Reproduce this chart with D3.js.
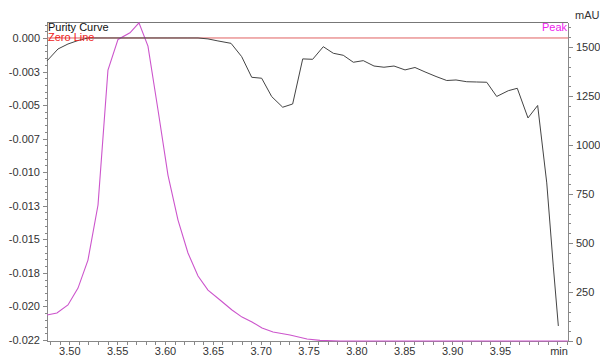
<!DOCTYPE html>
<html>
<head>
<meta charset="utf-8">
<script src="https://cdn.jsdelivr.net/npm/d3@7"></script>
<style>
  body { margin: 0; background: #fff; }
  svg { display: block; font-family: "Liberation Sans", Arial, sans-serif; }
  .axis text { font-size: 11px; fill: #333; }
  .axis path, .axis line { stroke: #888; shape-rendering: crispEdges; }
</style>
</head>
<body>
<svg id="chart" width="600" height="358"></svg>
<script>
// purity curve (left axis), time in min
var purityTime = [3.4767, 3.4882, 3.4986, 3.5091, 3.5195, 3.5300, 3.5404, 3.5509, 3.5614, 3.5718,
	3.5822, 3.5927, 3.6031, 3.6136, 3.6240, 3.6345, 3.6449, 3.6553, 3.6690, 3.6801,
	3.6906, 3.7010, 3.7115, 3.7230, 3.7334, 3.7439, 3.7543, 3.7654, 3.7759, 3.7863,
	3.7968, 3.8072, 3.8184, 3.8288, 3.8393, 3.8508, 3.8612, 3.8717, 3.8832, 3.8944,
	3.9041, 3.9153, 3.9257, 3.9362, 3.9466, 3.9587, 3.9681, 3.9793, 3.9894, 3.9989,
	4.0058, 4.0110];
var purityValue = [-0.00171, -0.00082, -0.00045, -0.00019, 0, 0, 0, 0, 0, 0,
	0, 0, 0, 0, 0, 0, -0.00007, -0.00022, -0.00040, -0.00139,
	-0.00293, -0.00300, -0.00437, -0.00516, -0.00492, -0.00156, -0.00159, -0.00065, -0.00114, -0.00129,
	-0.00181, -0.00169, -0.00209, -0.00218, -0.00209, -0.00238, -0.00220, -0.00253, -0.00287, -0.00317,
	-0.00313, -0.00326, -0.00328, -0.00330, -0.00436, -0.00393, -0.00375, -0.00596, -0.00503, -0.01080,
	-0.01706, -0.02146];

// peak (right axis, mAU)
var peakTime = [3.4767, 3.4871, 3.4986, 3.5091, 3.5195, 3.5300, 3.5404, 3.5509, 3.5634, 3.5728,
	3.5822, 3.5927, 3.6031, 3.6136, 3.6240, 3.6345, 3.6449, 3.6575, 3.6700, 3.6805,
	3.6909, 3.7014, 3.7129, 3.7306, 3.7484, 3.7620, 3.7829, 3.8007, 3.9000, 4.0210];
var peakValue = [133, 143, 184, 270, 413, 694, 1383, 1539, 1573, 1624,
	1505, 1179, 847, 617, 449, 332, 260, 209, 158, 122,
	97, 66, 46, 31, 10, 3, 0, 0, 0, 0];

var leftTicks = [0, -0.0025, -0.005, -0.0075, -0.01, -0.0125, -0.015, -0.0175, -0.02, -0.0225];
var leftLabels = ["0.000", "-0.003", "-0.005", "-0.007", "-0.010", "-0.013", "-0.015", "-0.018", "-0.020", "-0.022"];
var rightTicks = [0, 250, 500, 750, 1000, 1250, 1500];
var xTicks = [3.50, 3.55, 3.60, 3.65, 3.70, 3.75, 3.80, 3.85, 3.90, 3.95];
var xLabels = ["3.50", "3.55", "3.60", "3.65", "3.70", "3.75", "3.80", "3.85", "3.90", "3.95"];

var x0 = 47, x1 = 568, y0 = 22, y1 = 341;

var svg = d3.select("#chart");

var xScale = d3.scaleLinear().domain([3.4767, 4.0211]).range([x0, x1]);
var yLeft = d3.scaleLinear().domain([-0.02258, 0.00119]).range([y1, y0]);
var yRight = d3.scaleLinear().domain([0, 1628]).range([y1, y0]);

// minor ticks
var xMinor = d3.range(348, 403).map(function(d) { return d / 100; });
var leftMinor = d3.range(-45, 3).map(function(d) { return d * 0.0005; });
var rightMinor = d3.range(0, 33).map(function(d) { return d * 50; });

svg.append("g").attr("class", "axis")
	.attr("transform", "translate(0," + y1 + ")")
	.call(d3.axisBottom(xScale).tickValues(xMinor).tickSize(4).tickSizeOuter(0).tickFormat(""));
svg.append("g").attr("class", "axis")
	.attr("transform", "translate(0," + y1 + ")")
	.call(d3.axisBottom(xScale).tickValues(xTicks).tickSize(4).tickSizeOuter(0)
		.tickFormat(function(d, i) { return xLabels[i]; }))
	.call(function(g) { g.selectAll("text").attr("y", 6).attr("dy", "0.71em"); });
svg.append("text")
	.attr("x", x1 - 9).attr("y", y1 + 14)
	.attr("text-anchor", "middle")
	.style("font-size", "11px").style("fill", "#333")
	.text("min");

svg.append("g").attr("class", "axis")
	.attr("transform", "translate(" + x0 + ",0)")
	.call(d3.axisLeft(yLeft).tickValues(leftMinor).tickSize(2).tickSizeOuter(0).tickFormat(""));
svg.append("g").attr("class", "axis")
	.attr("transform", "translate(" + x0 + ",0)")
	.call(d3.axisLeft(yLeft).tickValues(leftTicks).tickSize(4).tickSizeOuter(0)
		.tickFormat(function(d, i) { return leftLabels[i]; }));

svg.append("g").attr("class", "axis")
	.attr("transform", "translate(" + x1 + ",0)")
	.call(d3.axisRight(yRight).tickValues(rightMinor).tickSize(3).tickSizeOuter(0).tickFormat(""));
svg.append("g").attr("class", "axis")
	.attr("transform", "translate(" + x1 + ",0)")
	.call(d3.axisRight(yRight).tickValues(rightTicks).tickSize(5).tickSizeOuter(0).tickFormat(d3.format("d")));
svg.append("text")
	.attr("x", 575).attr("y", 19)
	.style("font-size", "11px").style("fill", "#333")
	.text("mAU");

svg.selectAll(".axis path.domain").style("stroke-width", 1.5);

// top frame
svg.append("line")
	.attr("x1", x0).attr("x2", x1).attr("y1", y0).attr("y2", y0)
	.style("stroke", "#777").style("shape-rendering", "crispEdges");

// zero line
svg.append("line")
	.attr("x1", x0).attr("x2", x1)
	.attr("y1", yLeft(0)).attr("y2", yLeft(0))
	.style("stroke", "#e06060").style("stroke-width", 1);

var peakLine = d3.line()
	.x(function(d, i) { return xScale(peakTime[i]); })
	.y(function(d) { return yRight(d); });
svg.append("path")
	.attr("d", peakLine(peakValue))
	.style("fill", "none").style("stroke", "#cc55cc").style("stroke-width", 1.1);

var purityLine = d3.line()
	.x(function(d, i) { return xScale(purityTime[i]); })
	.y(function(d) { return yLeft(d); });
svg.append("path")
	.attr("d", purityLine(purityValue))
	.style("fill", "none").style("stroke", "#444").style("stroke-width", 1);

// legend labels
svg.append("text").attr("x", x0 + 1).attr("y", 31)
	.style("font-size", "11px").style("fill", "#111").text("Purity Curve");
svg.append("text").attr("x", x0 + 1).attr("y", 41)
	.style("font-size", "11px").style("fill", "#ee2222").text("Zero Line");
svg.append("text").attr("x", x1 - 1).attr("y", 31)
	.attr("text-anchor", "end")
	.style("font-size", "11px").style("fill", "#ee22ee").text("Peak");
</script>
</body>
</html>
